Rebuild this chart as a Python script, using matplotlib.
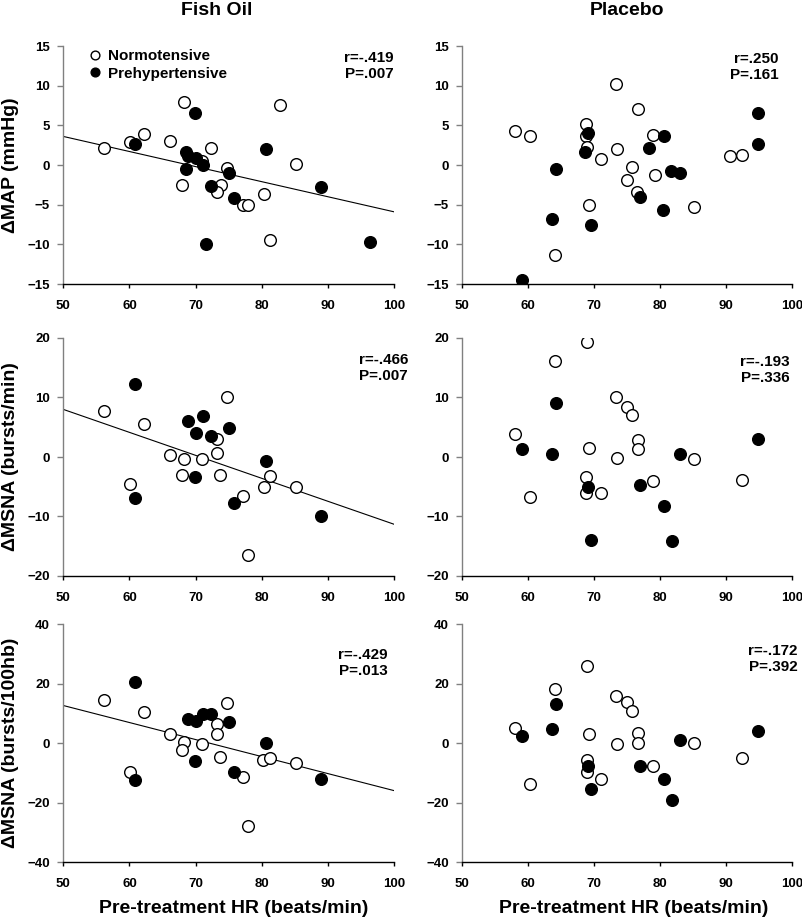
import matplotlib.pyplot as plt

plt.rcParams['font.family'] = ['Liberation Sans', 'DejaVu Sans']
plt.rcParams['font.weight'] = 'bold'

# ---- Fish oil: delta MAP ----
fo_map_norm_hr = [56.2, 60.1, 62.2, 66.1, 68.2, 68.0, 71.0, 72.3, 74.8, 73.8, 73.2, 77.1, 78.0, 80.3, 81.2, 82.8, 85.2]
fo_map_norm = [2.1, 2.9, 3.9, 3.0, 7.9, -2.5, 0.5, 2.1, -0.4, -2.5, -3.4, -5.0, -5.0, -3.7, -9.5, 7.6, 0.1]
fo_map_pre_hr = [60.8, 69.9, 68.6, 68.9, 70.1, 68.6, 71.1, 75.1, 72.3, 75.8, 71.5, 80.7, 88.9, 96.3]
fo_map_pre = [2.6, 6.6, 1.6, 1.1, 0.9, -0.5, 0.0, -1.0, -2.7, -4.2, -10.0, 2.0, -2.8, -9.7]
fo_map_fit = [3.6, -5.9]

# ---- Placebo: delta MAP ----
pl_map_norm_hr = [58.1, 60.3, 68.8, 68.8, 68.9, 69.2, 64.1, 71.0, 73.3, 73.5, 75.7, 75.0, 76.6, 76.5, 78.9, 79.3, 85.1, 90.6, 92.4]
pl_map_norm = [4.3, 3.6, 5.2, 3.6, 2.3, -5.0, -11.4, 0.8, 10.2, 2.0, -0.2, -1.9, 7.0, -3.4, 3.8, -1.2, -5.3, 1.1, 1.2]
pl_map_pre_hr = [59.1, 63.6, 64.2, 68.7, 69.1, 69.5, 76.9, 78.4, 80.6, 80.5, 81.7, 83.1, 94.9, 94.9]
pl_map_pre = [-14.5, -6.8, -0.5, 1.7, 4.0, -7.6, -4.0, 2.1, 3.7, -5.7, -0.8, -1.0, 6.6, 2.7]

# ---- Fish oil: delta MSNA (bursts/min) ----
fo_msna_norm_hr = [56.2, 60.1, 62.2, 66.1, 68.2, 68.0, 71.0, 73.3, 73.3, 73.7, 74.8, 77.2, 77.9, 80.3, 81.2, 85.2]
fo_msna_norm = [7.7, -4.5, 5.5, 0.3, -0.3, -3.1, -0.4, 3.0, 0.7, -3.1, 10.1, -6.6, -16.4, -5.0, -3.2, -5.1]
fo_msna_pre_hr = [60.8, 60.8, 68.8, 70.1, 69.9, 71.1, 72.3, 75.1, 75.8, 80.7, 88.9]
fo_msna_pre = [12.3, -6.9, 6.0, 4.1, -3.3, 6.9, 3.5, 4.9, -7.7, -0.7, -10.0]
fo_msna_fit = [8.0, -11.3]

# ---- Placebo: delta MSNA (bursts/min) ----
pl_msna_norm_hr = [58.1, 60.3, 64.1, 68.9, 69.2, 68.8, 68.8, 71.0, 73.3, 73.5, 75.0, 75.7, 76.6, 76.6, 78.9, 85.1, 92.4]
pl_msna_norm = [3.8, -6.7, 16.1, 19.3, 1.5, -3.3, -6.1, -6.1, 10.1, -0.1, 8.4, 7.0, 2.9, 1.4, -4.1, -0.4, -3.9]
pl_msna_pre_hr = [59.1, 63.6, 64.2, 69.1, 69.5, 76.9, 80.6, 81.8, 83.1, 94.9]
pl_msna_pre = [1.4, 0.5, 9.1, -5.0, -13.9, -4.7, -8.3, -14.2, 0.5, 3.1]

# ---- Fish oil: delta MSNA (bursts/100hb) ----
fo_hb_norm_hr = [56.2, 60.1, 62.2, 66.1, 68.2, 68.0, 71.0, 73.3, 73.3, 73.7, 74.8, 77.2, 77.9, 80.2, 81.2, 85.2]
fo_hb_norm = [14.3, -9.6, 10.4, 3.1, 0.5, -2.3, -0.3, 6.5, 3.0, -4.6, 13.6, -11.3, -27.9, -5.6, -4.9, -6.6]
fo_hb_pre_hr = [60.8, 60.8, 68.8, 70.1, 69.9, 71.1, 72.3, 75.1, 75.8, 80.7, 88.9]
fo_hb_pre = [20.6, -12.3, 7.9, 7.4, -6.0, 9.9, 9.6, 7.1, -9.7, -0.1, -12.2]
fo_hb_fit = [12.6, -16.0]

# ---- Placebo: delta MSNA (bursts/100hb) ----
pl_hb_norm_hr = [58.1, 60.3, 64.1, 68.9, 69.2, 68.9, 68.9, 71.0, 73.3, 73.5, 75.0, 75.7, 76.6, 76.6, 78.9, 85.1, 92.4]
pl_hb_norm = [5.2, -13.9, 18.1, 25.8, 2.9, -5.6, -9.7, -12.0, 15.9, -0.3, 13.9, 10.8, 3.3, 0.1, -7.8, 0.1, -5.1]
pl_hb_pre_hr = [59.1, 63.6, 64.2, 69.1, 69.5, 76.9, 80.6, 81.8, 83.1, 94.9]
pl_hb_pre = [2.2, 4.8, 13.0, -7.8, -15.4, -7.7, -12.0, -19.2, 1.1, 3.9]

fit_hr = [50, 100]

stats = [['r=-.419\nP=.007', 'r=.250\nP=.161'],
         ['r=-.466\nP=.007', 'r=-.193\nP=.336'],
         ['r=-.429\nP=.013', 'r=-.172\nP=.392']]
stat_pos = [[(1.0, 0.98), (0.958, 0.976)],
            [(1.042, 0.938), (0.994, 0.928)],
            [(0.982, 0.898), (1.018, 0.916)]]

ylabels = ['\u0394MAP (mmHg)', '\u0394MSNA (bursts/min)', '\u0394MSNA (bursts/100hb)']
ylims = [(-15, 15), (-20, 20), (-40, 40)]
yticks = [range(-15, 16, 5), range(-20, 21, 10), range(-40, 41, 20)]

panels = [
    [(fo_map_norm_hr, fo_map_norm, fo_map_pre_hr, fo_map_pre, fo_map_fit),
     (pl_map_norm_hr, pl_map_norm, pl_map_pre_hr, pl_map_pre, None)],
    [(fo_msna_norm_hr, fo_msna_norm, fo_msna_pre_hr, fo_msna_pre, fo_msna_fit),
     (pl_msna_norm_hr, pl_msna_norm, pl_msna_pre_hr, pl_msna_pre, None)],
    [(fo_hb_norm_hr, fo_hb_norm, fo_hb_pre_hr, fo_hb_pre, fo_hb_fit),
     (pl_hb_norm_hr, pl_hb_norm, pl_hb_pre_hr, pl_hb_pre, None)],
]

W, H = 803, 922
fig = plt.figure(figsize=(W / 100, H / 100), dpi=100)

col_left = [63.3, 462]
col_width = [330.7, 330]
row_top = [46, 338, 624]
row_height = 238

for r in range(3):
    for c in range(2):
        ax = fig.add_axes([col_left[c] / W, 1 - (row_top[r] + row_height) / H,
                           col_width[c] / W, row_height / H])
        nx, ny, px, py, fit = panels[r][c]
        ax.plot(nx, ny, 'o', mfc='white', mec='black', mew=1.0, ms=8.4,
                label='Normotensive', zorder=3)
        ax.plot(px, py, 'o', mfc='black', mec='black', mew=1.0, ms=8.4,
                label='Prehypertensive', zorder=3)
        if fit is not None:
            ax.plot(fit_hr, fit, color='black', lw=0.8, zorder=2)

        ax.set_xlim(50, 100)
        ax.set_ylim(*ylims[r])
        ax.set_xticks(range(50, 101, 10))
        ax.set_yticks(list(yticks[r]))
        ax.spines['top'].set_visible(False)
        ax.spines['right'].set_visible(False)
        ax.spines['left'].set_color('#808080')
        ax.spines['left'].set_linewidth(1.0)
        ax.spines['bottom'].set_linewidth(1.0)
        ax.tick_params(axis='y', direction='out', length=4.5, width=1.0,
                       color='#808080', labelsize=9.5, pad=5)
        ax.tick_params(axis='x', direction='out', length=3, width=1.0,
                       labelsize=9.5, pad=8.5)
        for lab in ax.get_xticklabels() + ax.get_yticklabels():
            lab.set_fontweight('bold')

        sx, sy = stat_pos[r][c]
        ax.text(sx, sy, stats[r][c], transform=ax.transAxes, ha='right',
                va='top', fontsize=11, fontweight='bold', linespacing=1.2)

        if r == 0 and c == 0:
            ax.legend(loc='upper left', bbox_to_anchor=(0.05, 1.02), frameon=False,
                      fontsize=11, handletextpad=0.35, labelspacing=0.25,
                      borderpad=0, handlelength=1.0, markerscale=0.75)

        if c == 0:
            fig.text(11 / W, 1 - (row_top[r] + row_height / 2) / H, ylabels[r],
                     rotation=90, ha='center', va='center', fontsize=14,
                     fontweight='bold')

fig.text(217 / W, 1 - 10.5 / H, 'Fish Oil', ha='center', va='center',
         fontsize=14, fontweight='bold')
fig.text(627 / W, 1 - 10.5 / H, 'Placebo', ha='center', va='center',
         fontsize=14, fontweight='bold')
fig.text(234 / W, 1 - 908 / H, 'Pre-treatment HR (beats/min)', ha='center',
         va='center', fontsize=14, fontweight='bold')
fig.text(634 / W, 1 - 908 / H, 'Pre-treatment HR (beats/min)', ha='center',
         va='center', fontsize=14, fontweight='bold')

fig.savefig('out.png', dpi=100)
